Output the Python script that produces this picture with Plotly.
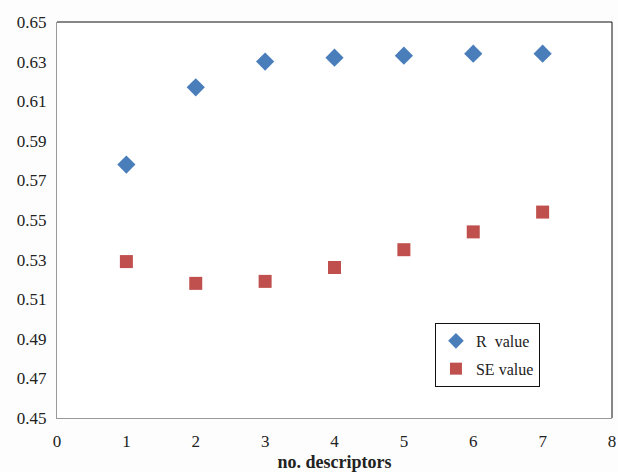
import plotly.graph_objects as go

descriptors = [1, 2, 3, 4, 5, 6, 7]
r_value = [0.578, 0.617, 0.630, 0.632, 0.633, 0.634, 0.634]
se_value = [0.529, 0.518, 0.519, 0.526, 0.535, 0.544, 0.554]
x_ticks = [0, 1, 2, 3, 4, 5, 6, 7, 8]
y_ticks = [0.45, 0.47, 0.49, 0.51, 0.53, 0.55, 0.57, 0.59, 0.61, 0.63, 0.65]

font = "Liberation Serif"

fig = go.Figure()
fig.add_trace(go.Scatter(x=descriptors, y=r_value, mode="markers", name="R  value",
                         legendgroup="a",
                         marker=dict(symbol="diamond", size=14, color="#4a7ebb")))
fig.add_trace(go.Scatter(x=descriptors, y=se_value, mode="markers", name="SE value",
                         legendgroup="b",
                         marker=dict(symbol="square", size=13, color="#c0504d")))

fig.update_layout(
    width=618, height=472,
    margin=dict(l=57, r=6, t=22, b=54, autoexpand=False),
    paper_bgcolor="#fdfdfd", plot_bgcolor="white",
    font=dict(family=font, size=17, color="#222"),
    showlegend=True,
    legend=dict(x=0.681, y=0.24, xanchor="left", yanchor="top",
                bgcolor="white", bordercolor="#111", borderwidth=1,
                font=dict(size=16), tracegroupgap=4,
                itemsizing="constant"),
    xaxis=dict(range=[0, 8], tickvals=x_ticks, ticktext=[str(v) for v in x_ticks],
               showgrid=False, zeroline=False, showline=True, linecolor="#999",
               linewidth=1, ticks="outside", ticklen=8, tickcolor="rgba(0,0,0,0)",
               automargin=False,
               title=dict(text="<b>no. descriptors</b>", font=dict(size=18), standoff=6)),
    yaxis=dict(range=[0.45, 0.65], tickvals=y_ticks, ticktext=[f"{v:.2f}" for v in y_ticks],
               showgrid=False, zeroline=False, showline=True, linecolor="#999",
               linewidth=1, ticks="outside", ticklen=6, tickcolor="rgba(0,0,0,0)",
               automargin=False),
)
fig.add_shape(type="line", xref="paper", yref="paper", x0=0, x1=1, y0=1, y1=1,
              line=dict(color="#111", width=1))
fig.add_shape(type="line", xref="paper", yref="paper", x0=1, x1=1, y0=0, y1=1,
              line=dict(color="#111", width=1))

fig.write_html("out.html",
               config={"displayModeBar": False},
               post_script="document.body.style.margin='0';document.body.style.overflow='hidden';")
